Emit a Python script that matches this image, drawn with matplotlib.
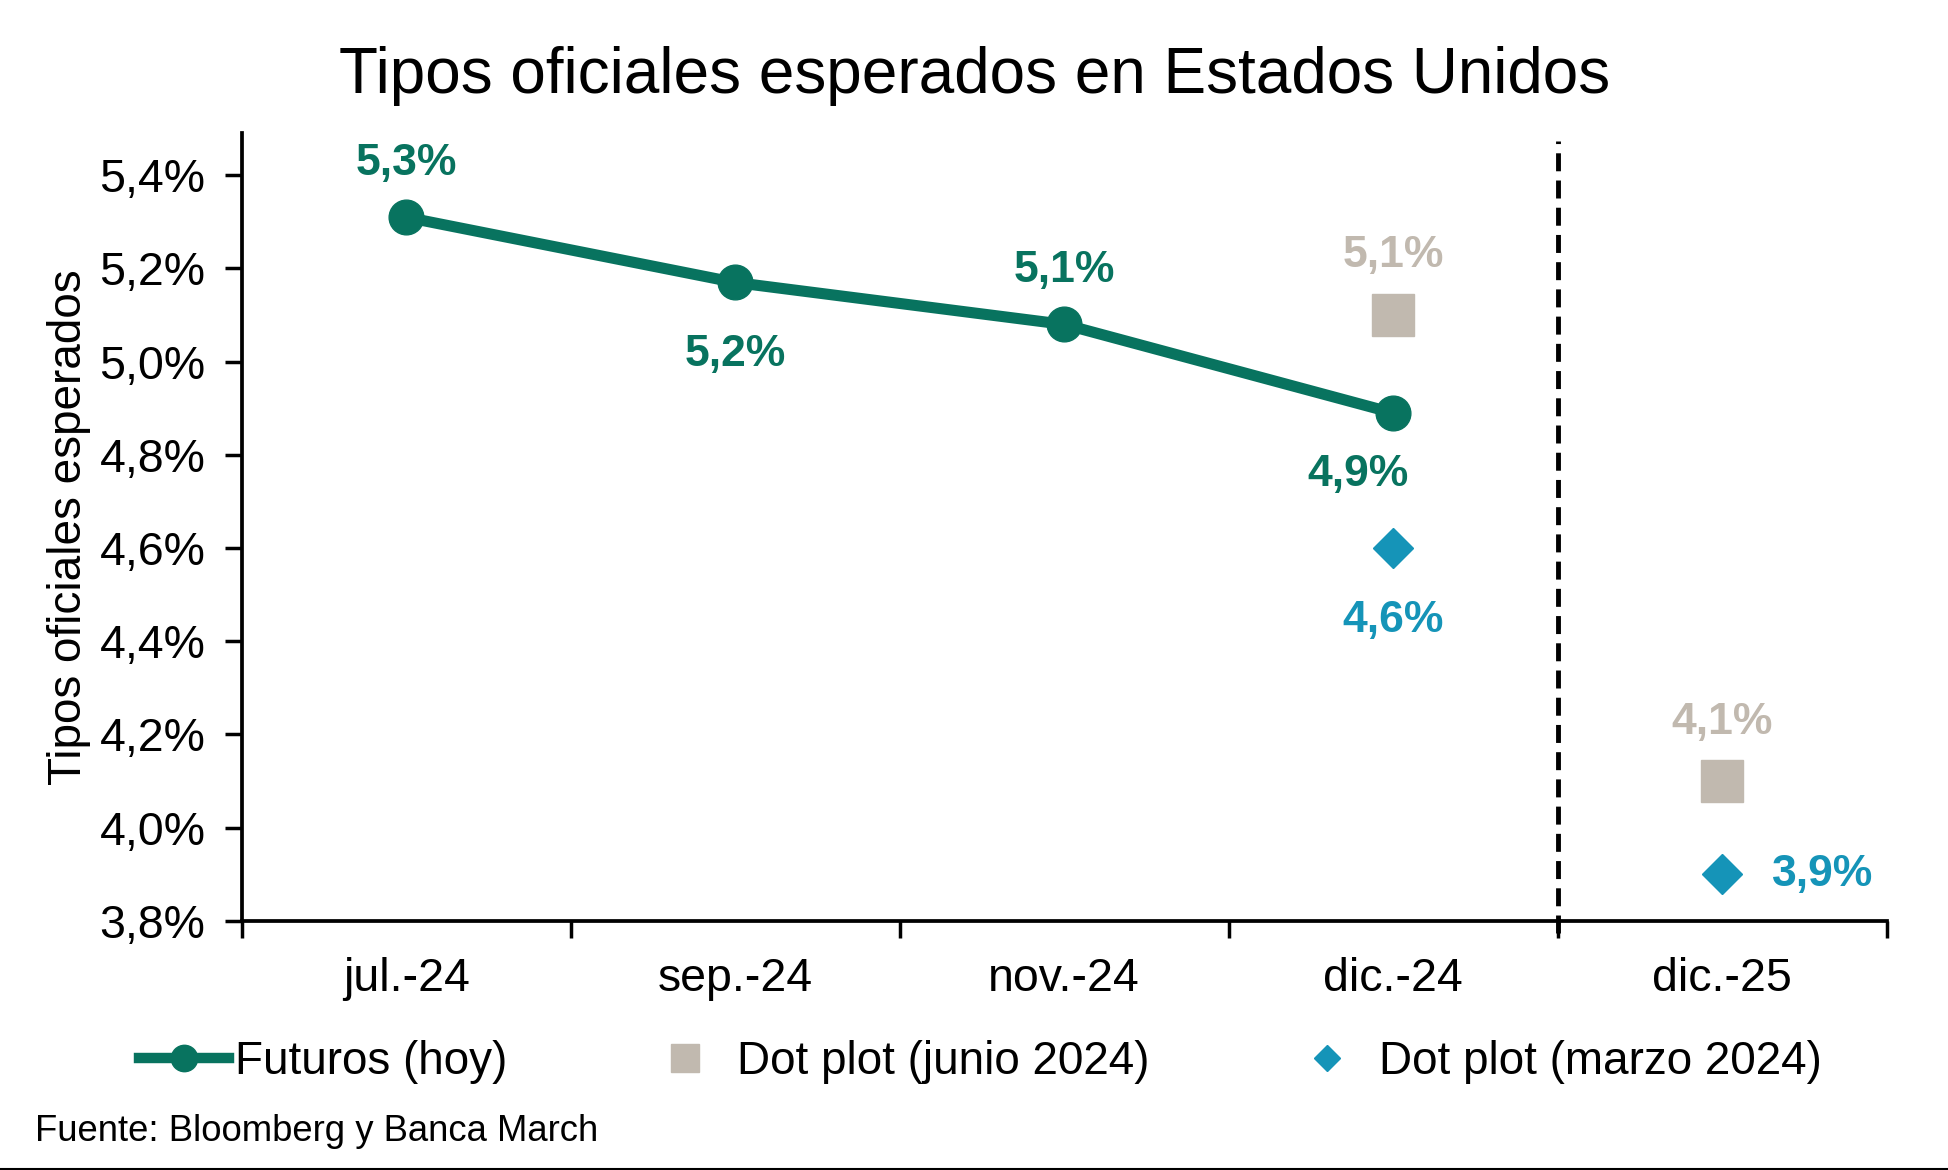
import matplotlib
matplotlib.use("Agg")
import matplotlib.pyplot as plt
from matplotlib.lines import Line2D

plt.rcParams['font.family'] = ['Liberation Sans', 'DejaVu Sans']

# Data
categories = ["jul.-24", "sep.-24", "nov.-24", "dic.-24", "dic.-25"]
futuros = [5.31, 5.17, 5.08, 4.89]          # jul-24 .. dic-24
futuros_labels = ["5,3%", "5,2%", "5,1%", "4,9%"]
junio_2024 = [5.1, 4.1]                      # dic-24, dic-25
junio_labels = ["5,1%", "4,1%"]
marzo_2024 = [4.6, 3.9]                      # dic-24, dic-25
marzo_labels = ["4,6%", "3,9%"]
yticks = [3.8, 4.0, 4.2, 4.4, 4.6, 4.8, 5.0, 5.2, 5.4]

green = "#08735F"
grey = "#C1B9AF"
blue = "#1594B8"

fig = plt.figure(figsize=(19.49, 11.7), dpi=100)
ax = fig.add_axes([0.124, 0.213, 0.844, 0.673])

x_fut = [1, 2, 3, 4]
x_dots = [4, 5]

ax.plot(x_fut, futuros, color=green, lw=8, marker='o', markersize=25,
        solid_capstyle='round', zorder=3)
ax.plot(x_dots, junio_2024, ls='none', marker='s', markersize=30,
        color=grey, zorder=3)
ax.plot(x_dots, marzo_2024, ls='none', marker='D', markersize=20,
        color=blue, zorder=3)

# data labels (offsets in points)
lab_font = dict(fontsize=32, fontweight='bold', ha='center', va='center')
fut_offsets = [(0, 39), (0, -52), (0, 39), (-25, -44)]
for xi, yi, t, off in zip(x_fut, futuros, futuros_labels, fut_offsets):
    ax.annotate(t, (xi, yi), xytext=off, textcoords='offset points',
                color=green, **lab_font)
for xi, yi, t, off in zip(x_dots, junio_2024, junio_labels, [(0, 43), (0, 42)]):
    ax.annotate(t, (xi, yi), xytext=off, textcoords='offset points',
                color=grey, **lab_font)
for xi, yi, t, off in zip(x_dots, marzo_2024, marzo_labels, [(0, -52), (72, 0)]):
    ax.annotate(t, (xi, yi), xytext=off, textcoords='offset points',
                color=blue, **lab_font)

# vertical dashed separator between 2024 and 2025
ax.axvline(4.5, ymin=-0.016, ymax=0.99, color='black', lw=3.5,
           dashes=(3.7, 1.9), clip_on=False, zorder=2)

ax.set_xlim(0.5, 5.5)
ax.set_ylim(3.8, 5.49)
ax.set_yticks(yticks)
ax.set_yticklabels([f"{v:.1f}%".replace('.', ',') for v in yticks])
ax.set_xticks([0.5, 1.5, 2.5, 3.5, 4.5, 5.5])
ax.set_xticklabels([])
ax.set_xticks([1, 2, 3, 4, 5], minor=True)
ax.set_xticklabels(categories, minor=True)
ax.tick_params(axis='x', which='major', length=12, width=2.5, direction='out')
ax.tick_params(axis='x', which='minor', length=0, pad=26, labelsize=33.5)
ax.tick_params(axis='y', length=12, width=2.5, direction='out', labelsize=33.5, pad=14)

for s in ['top', 'right']:
    ax.spines[s].set_visible(False)
for s in ['left', 'bottom']:
    ax.spines[s].set_linewidth(2.7)

ax.set_ylabel("Tipos oficiales esperados", fontsize=33, labelpad=6)
fig.text(0.5, 0.935, "Tipos oficiales esperados en Estados Unidos",
         ha='center', va='center', fontsize=46)

handles = [
    Line2D([], [], color=green, lw=7.5, marker='o', markersize=19),
    Line2D([], [], ls='none', color=grey, marker='s', markersize=20),
    Line2D([], [], ls='none', color=blue, marker='D', markersize=13),
]
fig.legend(handles, ["Futuros (hoy)", "Dot plot (junio 2024)", "Dot plot (marzo 2024)"],
           loc='center', bbox_to_anchor=(0.503, 0.092), ncol=3, frameon=False,
           fontsize=33, handlelength=1.95, handletextpad=0.15, columnspacing=2.9)

fig.text(0.018, 0.033, "Fuente: Bloomberg y Banca March", ha='left', va='center',
         fontsize=26.3)

# thin frame line at the bottom edge of the image
fig.add_artist(Line2D([0, 1], [0.001, 0.001], color='black', lw=1.5,
                      transform=fig.transFigure))

fig.savefig("out.png", dpi=100)
